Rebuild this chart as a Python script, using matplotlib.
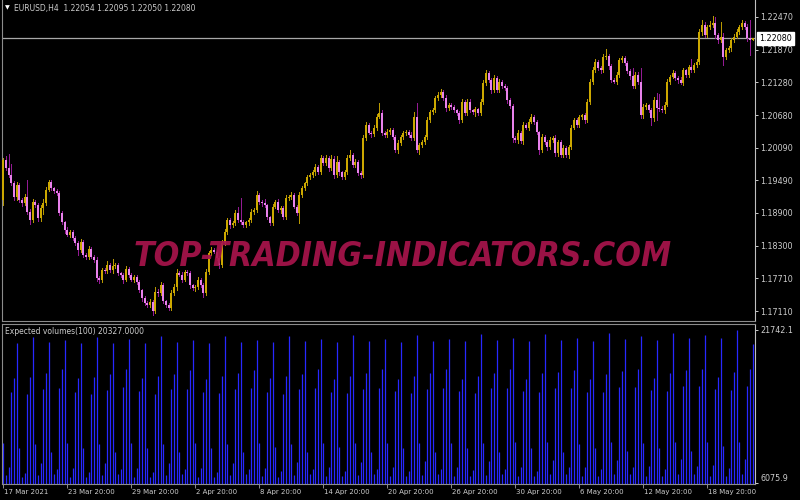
import matplotlib
matplotlib.use("Agg")
import matplotlib.pyplot as plt
import numpy as np
from matplotlib import font_manager
from matplotlib.transforms import blended_transform_factory

# EURUSD H4, 17 Mar 2021 20:00 -> 21 May 2021 16:00 (282 bars)
first_open = 1.1913
closes = [
    1.1986, 1.1972, 1.1959, 1.1944, 1.1919, 1.1941, 1.1913, 1.1908, 1.1919, 1.1892,
    1.1877, 1.1910, 1.1904, 1.1881, 1.1899, 1.1908, 1.1932, 1.1946, 1.1935, 1.1930,
    1.1926, 1.1890, 1.1873, 1.1859, 1.1850, 1.1855, 1.1844, 1.1835, 1.1822, 1.1837,
    1.1813, 1.1810, 1.1824, 1.1810, 1.1804, 1.1771, 1.1768, 1.1786, 1.1784, 1.1795,
    1.1786, 1.1793, 1.1795, 1.1780, 1.1777, 1.1768, 1.1788, 1.1777, 1.1768, 1.1773,
    1.1764, 1.1749, 1.1735, 1.1726, 1.1722, 1.1728, 1.1711, 1.1746, 1.1744, 1.1758,
    1.1729, 1.1722, 1.1717, 1.1744, 1.1755, 1.1780, 1.1777, 1.1768, 1.1782, 1.1780,
    1.1758, 1.1753, 1.1755, 1.1768, 1.1758, 1.1744, 1.1782, 1.1817, 1.1822, 1.1819,
    1.1808, 1.1795, 1.1835, 1.1855, 1.1877, 1.1868, 1.1872, 1.1890, 1.1877, 1.1873,
    1.1868, 1.1873, 1.1877, 1.1892, 1.1895, 1.1923, 1.1910, 1.1908, 1.1904, 1.1882,
    1.1872, 1.1901, 1.1910, 1.1895, 1.1899, 1.1882, 1.1917, 1.1919, 1.1923, 1.1901,
    1.1890, 1.1923, 1.1935, 1.1944, 1.1955, 1.1959, 1.1964, 1.1974, 1.1964, 1.1990,
    1.1981, 1.1990, 1.1972, 1.1988, 1.1959, 1.1983, 1.1964, 1.1955, 1.1964, 1.1990,
    1.1995, 1.1977, 1.1983, 1.1963, 1.1959, 1.2026, 1.2050, 1.2036, 1.2033, 1.2045,
    1.2065, 1.2072, 1.2036, 1.2032, 1.2037, 1.2041, 1.2028, 1.2005, 1.2017, 1.2028,
    1.2036, 1.2037, 1.2032, 1.2026, 1.2065, 1.2005, 1.2014, 1.2019, 1.2028, 1.2059,
    1.2074, 1.2077, 1.2099, 1.2105, 1.2110, 1.2099, 1.2081, 1.2087, 1.2083, 1.2077,
    1.2072, 1.2059, 1.2092, 1.2072, 1.2092, 1.2077, 1.2074, 1.2079, 1.2072, 1.2092,
    1.2127, 1.2145, 1.2132, 1.2114, 1.2136, 1.2114, 1.2129, 1.2121, 1.2118, 1.2096,
    1.2085, 1.2026, 1.2023, 1.2036, 1.2021, 1.2050, 1.2045, 1.2056, 1.2065, 1.2056,
    1.2037, 1.2005, 1.2028, 1.2019, 1.2010, 1.2023, 1.2026, 1.1999, 1.2019, 1.1995,
    1.2008, 1.1995, 1.2010, 1.2045, 1.2059, 1.2050, 1.2065, 1.2068, 1.2059, 1.2092,
    1.2129, 1.2150, 1.2165, 1.2154, 1.2150, 1.2174, 1.2176, 1.2158, 1.2132, 1.2129,
    1.2141, 1.2169, 1.2172, 1.2163, 1.2149, 1.2139, 1.2121, 1.2141, 1.2129, 1.2068,
    1.2083, 1.2086, 1.2077, 1.2063, 1.2096, 1.2081, 1.2079, 1.2077, 1.2087, 1.2129,
    1.2138, 1.2145, 1.2136, 1.2132, 1.2127, 1.2150, 1.2141, 1.2156, 1.2150, 1.2159,
    1.2165, 1.2220, 1.2232, 1.2214, 1.2229, 1.2232, 1.2236, 1.2214, 1.2205, 1.2211,
    1.2174, 1.2187, 1.2190, 1.2205, 1.2211, 1.2220, 1.2229, 1.2236, 1.2229, 1.2209,
    1.22054, 1.22080,
]
# wick lengths above / below the body, in pips
wick_up = [
    4, 8, 25, 20, 4, 6, 3, 4, 5, 30,
    5, 6, 3, 4, 6, 8, 5, 4, 3, 3,
    4, 3, 4, 3, 5, 4, 3, 4, 3, 5,
    4, 3, 5, 4, 3, 6, 3, 4, 3, 8,
    3, 12, 4, 3, 3, 4, 5, 3, 4, 3,
    3, 4, 3, 3, 4, 5, 3, 8, 5, 6,
    4, 3, 3, 5, 6, 8, 4, 5, 3, 4,
    4, 3, 4, 5, 3, 4, 5, 4, 6, 3,
    4, 3, 6, 5, 4, 3, 3, 5, 10, 40,
    4, 3, 4, 5, 4, 6, 3, 4, 8, 3,
    3, 5, 4, 5, 3, 4, 6, 4, 5, 4,
    3, 5, 4, 3, 4, 3, 4, 5, 4, 5,
    4, 6, 4, 8, 5, 10, 4, 3, 4, 5,
    10, 4, 5, 4, 3, 6, 5, 4, 3, 5,
    6, 18, 5, 4, 5, 4, 3, 4, 5, 4,
    3, 4, 4, 5, 8, 25, 3, 4, 4, 5,
    4, 5, 4, 5, 6, 4, 5, 4, 3, 4,
    3, 4, 6, 4, 5, 5, 3, 4, 3, 6,
    5, 6, 4, 4, 5, 4, 5, 4, 3, 4,
    4, 3, 4, 5, 4, 6, 4, 5, 5, 3,
    4, 3, 5, 4, 3, 5, 4, 6, 4, 3,
    5, 4, 4, 5, 4, 3, 4, 3, 4, 5,
    5, 6, 5, 4, 4, 6, 12, 4, 3, 4,
    5, 4, 4, 3, 4, 4, 15, 5, 6, 25,
    5, 4, 3, 4, 5, 12, 25, 6, 5, 5,
    4, 5, 4, 3, 5, 4, 3, 4, 15, 4,
    5, 6, 10, 5, 4, 8, 12, 11, 4, 27,
    6, 4, 5, 4, 5, 6, 4, 5, 4, 6,
    33, 1.5,
]
wick_dn = [
    8, 4, 3, 4, 5, 6, 4, 5, 4, 5,
    8, 4, 3, 6, 5, 12, 4, 3, 3, 4,
    3, 4, 4, 5, 3, 4, 3, 4, 8, 4,
    3, 4, 5, 3, 4, 5, 6, 4, 3, 4,
    3, 5, 4, 3, 4, 6, 3, 4, 3, 4,
    4, 3, 5, 4, 3, 4, 8, 4, 5, 3,
    4, 3, 5, 4, 3, 5, 3, 4, 3, 4,
    5, 4, 6, 3, 4, 8, 4, 3, 4, 3,
    4, 5, 4, 3, 4, 5, 3, 4, 3, 4,
    3, 4, 5, 3, 4, 3, 4, 5, 3, 4,
    5, 4, 3, 4, 5, 3, 4, 3, 4, 3,
    4, 18, 5, 4, 3, 4, 3, 5, 4, 3,
    4, 3, 5, 4, 6, 4, 5, 4, 3, 4,
    3, 4, 3, 4, 5, 3, 4, 3, 4, 3,
    4, 3, 5, 4, 3, 4, 3, 4, 6, 4,
    3, 4, 3, 4, 3, 5, 8, 4, 3, 4,
    3, 4, 3, 4, 3, 4, 5, 3, 4, 3,
    4, 5, 4, 3, 4, 3, 4, 8, 3, 4,
    3, 4, 3, 5, 4, 3, 4, 3, 4, 5,
    4, 6, 3, 5, 4, 6, 3, 4, 3, 4,
    4, 8, 4, 3, 5, 4, 3, 6, 5, 4,
    3, 4, 5, 4, 3, 4, 3, 4, 5, 3,
    3, 4, 3, 4, 5, 3, 4, 5, 4, 3,
    4, 3, 4, 3, 4, 5, 4, 3, 4, 6,
    5, 4, 3, 12, 6, 22, 4, 3, 5, 3,
    4, 3, 4, 5, 3, 4, 3, 4, 3, 4,
    3, 4, 5, 3, 4, 3, 4, 5, 6, 4,
    15, 4, 3, 5, 4, 3, 4, 3, 4, 5,
    27, 0.4,
]

# Expected volumes(100): first bar is 17 Mar 20:00, then one row per day (00,04,08,12,16,20)
volumes = [
    10140,
    6900, 7750, 15430, 16800, 20450, 9690,
    6730, 7130, 15190, 16960, 21000, 10070,
    6900, 8160, 15670, 17310, 20550, 9220,
    6980, 7480, 15770, 17720, 20720, 10140,
    6730, 7640, 15430, 16800, 20450, 9700,
    6730, 7230, 15190, 16960, 21060, 10070,
    6900, 8160, 15600, 17240, 20450, 9280,
    6980, 7480, 15880, 17720, 20790, 10140,
    6730, 7640, 15500, 16800, 20450, 9690,
    6730, 7230, 15190, 17030, 21130, 10070,
    6900, 8160, 15670, 17240, 20550, 9280,
    6980, 7480, 15740, 17650, 20720, 10140,
    6730, 7640, 15360, 16700, 20450, 9690,
    6730, 7230, 15260, 17030, 21130, 10070,
    6900, 8160, 15670, 17310, 20550, 9220,
    6980, 7480, 15800, 17690, 20760, 10170,
    6760, 7660, 15400, 16780, 20480, 9720,
    6740, 7260, 15220, 17000, 21150, 10100,
    6910, 8200, 15690, 17280, 20590, 9260,
    6990, 7500, 15810, 17700, 20800, 10190,
    6760, 7680, 15430, 16760, 20520, 9740,
    6750, 7290, 15260, 17020, 21200, 10130,
    6920, 8240, 15720, 17300, 20620, 9280,
    7000, 7520, 15830, 17710, 20830, 10200,
    6770, 7700, 15470, 16740, 20560, 9710,
    6760, 7320, 15300, 17050, 21250, 10170,
    6930, 8280, 15740, 17330, 20650, 9290,
    7010, 7540, 15840, 17720, 20860, 10220,
    6780, 7690, 15500, 16720, 20590, 9700,
    6770, 7360, 15340, 17080, 21290, 10200,
    6940, 8320, 15760, 17350, 20680, 9300,
    7020, 7560, 15850, 17730, 20890, 10230,
    6790, 7700, 15530, 16700, 20620, 9690,
    6760, 7350, 15360, 17310, 21330, 10240,
    6950, 8400, 15770, 17480, 20720, 9280,
    7000, 7710, 15840, 17650, 20890, 10070,
    6780, 7750, 15430, 16700, 20620, 9690,
    6780, 7480, 15430, 17240, 21400, 10240,
    6960, 8400, 15880, 17550, 20860, 9350,
    7020, 7750, 15880, 17720, 21130, 10140,
    6790, 7810, 15600, 16870, 20720, 9690,
    6790, 7540, 15500, 17310, 21400, 10240,
    6970, 8500, 16010, 17650, 20890, 9350,
    7030, 7810, 16010, 17750, 21230, 10240,
    6800, 7920, 15700, 16960, 20960, 9860,
    6800, 7650, 15600, 17410, 21742.1, 10240,
    6980, 8570, 16050, 17750, 20327,
]
vol_min_label = 6075.9

price_ticks = [1.22470, 1.21870, 1.21280, 1.20680, 1.20090,
               1.19490, 1.18900, 1.18300, 1.17710, 1.17110]
time_bars = [0, 24, 48, 72, 96, 120, 144, 168, 192, 216, 240, 264]
time_labels = ["17 Mar 2021", "23 Mar 20:00", "29 Mar 20:00", "2 Apr 20:00",
               "8 Apr 20:00", "14 Apr 20:00", "20 Apr 20:00", "26 Apr 20:00",
               "30 Apr 20:00", "6 May 20:00", "12 May 20:00", "18 May 20:00"]
symbol = "EURUSD,H4"
watermark = "TOP-TRADING-INDICATORS.COM"

close = np.array(closes)
opn = np.r_[first_open, close[:-1]]
top = np.maximum(opn, close)
bot = np.minimum(opn, close)
high = top + np.array(wick_up) * 1e-4
low = bot - np.array(wick_dn) * 1e-4
vol = np.array(volumes, dtype=float)
n = len(close)
idx = np.arange(n)

txt_col = "#cccccc"
grid_col = "#8c8c8c"
bull_body, bull_wick = "#cca800", "#b89800"
bear_body, bear_wick = "#e882ec", "#941a94"

fig = plt.figure(figsize=(8, 5), dpi=100, facecolor="black")
ax = fig.add_axes([2 / 800, 1 - 321 / 500, 753 / 800, 321 / 500], facecolor="black")
axv = fig.add_axes([2 / 800, 1 - 484 / 500, 753 / 800, 160 / 500], facecolor="black")

x0 = -0.5
x1 = x0 + 753 / 2.6667

# candles
up = close >= opn
dn = ~up
ax.vlines(idx[up], low[up], high[up], color=bull_wick, lw=0.6, zorder=2, antialiased=False)
ax.vlines(idx[dn], low[dn], high[dn], color=bear_wick, lw=0.6, zorder=2, antialiased=False)
body_h = np.maximum(top - bot, 0.00006)
ax.bar(idx[up], body_h[up], bottom=bot[up], width=0.8, color=bull_body, lw=0, zorder=3)
ax.bar(idx[dn], body_h[dn], bottom=bot[dn], width=0.8, color=bear_body, lw=0, zorder=3)

# bid line
ax.axhline(close[-1], color="#a8a8a8", lw=0.9, zorder=1)

ax.set_xlim(x0, x1)
ax.set_ylim(1.169281, 1.227799)
ax.yaxis.tick_right()
ax.set_yticks(price_ticks)
ax.set_yticklabels([f"{v:.5f}" for v in price_ticks])
ax.tick_params(axis="y", colors=txt_col, labelsize=5.8, length=2.5, width=0.7, pad=1.5)
ax.tick_params(axis="x", bottom=False, labelbottom=False)
for s in ["left", "bottom"]:
    ax.spines[s].set_color(grid_col)
ax.spines["right"].set_color("#c0c0c0")
ax.spines["top"].set_visible(False)

ax.annotate(f"{close[-1]:.5f}", xy=(1.0, close[-1]),
            xycoords=blended_transform_factory(ax.transAxes, ax.transData),
            xytext=(3, 0), textcoords="offset points", ha="left", va="center",
            fontsize=5.8, color="black", annotation_clip=False,
            bbox=dict(boxstyle="square,pad=0.25", fc="white", ec="white"))

fig.text(5 / 800, 1 - 8 / 500, "\u25bc", fontsize=4.5, color="white", va="center")
fig.text(14 / 800, 1 - 8 / 500,
         f"{symbol}  {opn[-1]:.5f} {high[-1]:.5f} {low[-1]:.5f} {close[-1]:.5f}",
         fontsize=5.5, color=txt_col, va="center")

# volume histogram
axv.vlines(idx, 0, vol, color="#2828ff", lw=0.9)
axv.set_xlim(x0, x1)
axv.set_ylim(5973.5, 22355.9)
axv.yaxis.tick_right()
axv.set_yticks([vol_min_label, vol.max()])
axv.set_yticklabels([f"{vol_min_label:.1f}", f"{vol.max():.1f}"])
axv.tick_params(axis="y", colors=txt_col, labelsize=5.8, length=2.5, width=0.7, pad=1.5)
axv.get_yticklabels()[0].set_va("bottom")
axv.set_xticks(time_bars)
axv.tick_params(axis="x", colors=grid_col, length=3, width=0.7, labelbottom=False)
for s in ["left", "bottom", "top"]:
    axv.spines[s].set_color(grid_col)
axv.spines["right"].set_color("#c0c0c0")
for b, lbl in zip(time_bars, time_labels):
    axv.annotate(lbl, xy=(b, 0), xycoords=("data", "axes fraction"),
                 xytext=(0.5, -3.5), textcoords="offset points", ha="left", va="top",
                 fontsize=5.0, color=txt_col, annotation_clip=False)
fig.text(5 / 800, 1 - 331 / 500, f"Expected volumes(100) {vol[-1]:.4f}",
         fontsize=5.5, color=txt_col, va="center")

# watermark: prefer a condensed bold face so the letters are tall like the original
cond = [f for f in font_manager.fontManager.ttflist
        if "condensed" in str(f.stretch) and f.weight in ("bold", 700)]
cond.sort(key=lambda f: (f.style == "normal", "Narrow" not in f.name))
wm_kw = dict(fontweight="bold", fontstyle="italic")
if cond:
    wm_kw = dict(fontproperties=font_manager.FontProperties(fname=cond[0].fname))
wm = fig.text(402.5 / 800, 1 - 266 / 500, watermark, fontsize=28,
              color="#a8144c", alpha=0.92, ha="center", va="baseline", zorder=10, **wm_kw)
fig.canvas.draw()
w = wm.get_window_extent(fig.canvas.get_renderer()).width
wm.set_fontsize(wm.get_fontsize() * 539 / w)

fig.savefig("out.png", dpi=100, facecolor="black")
